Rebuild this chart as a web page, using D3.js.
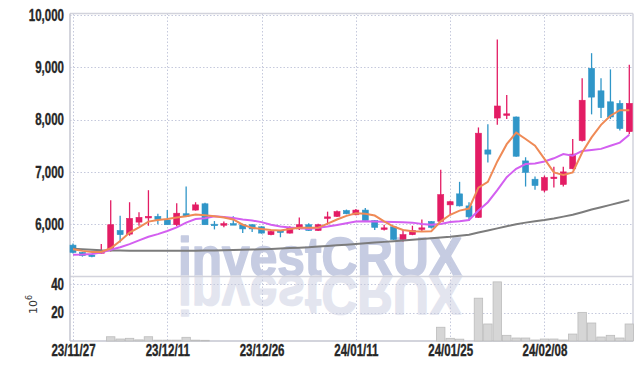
<!DOCTYPE html>
<html><head><meta charset="utf-8">
<script src="https://cdn.jsdelivr.net/npm/d3@7"></script>
<style>body{margin:0;background:#fff}svg{display:block}</style>
</head><body><svg id="c" width="643" height="370"></svg>
<script>
const dates = ["23/11/27","23/11/28","23/11/29","23/11/30","23/12/01","23/12/04","23/12/05","23/12/06","23/12/07","23/12/08",
"23/12/11","23/12/12","23/12/13","23/12/14","23/12/15","23/12/18","23/12/19","23/12/20","23/12/21","23/12/22",
"23/12/26","23/12/27","23/12/28","24/01/02","24/01/03","24/01/04","24/01/05","24/01/08","24/01/09","24/01/10",
"24/01/11","24/01/12","24/01/15","24/01/16","24/01/17","24/01/18","24/01/19","24/01/22","24/01/23","24/01/24",
"24/01/25","24/01/26","24/01/29","24/01/30","24/01/31","24/02/01","24/02/02","24/02/05","24/02/06","24/02/07",
"24/02/08","24/02/13","24/02/14","24/02/15","24/02/16","24/02/19","24/02/20","24/02/21","24/02/22","24/02/23"];
const openP = [5600,5460,5410,5445,5500,5880,5810,6040,6120,6150,6080,5990,6200,6270,6390,6000,5980,6010,5990,5990,
5950,5800,5870,5830,5910,5990,5880,6130,6150,6260,6180,6270,6070,5920,5950,5710,5800,5920,6050,6055,
6370,6580,6350,6130,7420,8030,8100,8050,7210,6860,6650,6890,6760,7060,7600,8980,8550,8340,8310,7770];
const highP = [5630,5470,5420,5620,6460,6160,6420,6230,6650,6200,6270,6400,6720,6420,6410,6060,6050,6150,6010,6000,
5960,5880,5880,5960,6130,6020,6010,6240,6260,6280,6290,6310,6080,5990,5960,5900,5970,6090,6060,7040,
6450,6810,6420,7850,7910,9530,8470,8060,7280,6910,6930,7100,7100,7630,8790,9270,8790,8960,8370,9050];
const lowP = [5440,5380,5370,5440,5480,5650,5780,5970,5970,6000,5990,5960,6140,6260,5990,5900,5940,5990,5830,5850,
5820,5790,5750,5820,5890,5870,5870,5990,6140,6190,6170,6060,5890,5880,5700,5670,5790,5850,5920,6040,
6170,6340,6060,6120,7180,7900,8010,7290,6720,6660,6610,6700,6720,7050,7580,8100,8030,8010,7790,7720];
const closeP = [5460,5400,5400,5480,5990,5800,6110,6130,6150,6090,5990,6210,6150,6370,5990,5990,6010,6000,5910,5910,
5830,5860,5860,5940,5990,5880,5990,6140,6240,6200,6270,6070,5940,5930,5710,5800,5880,5930,5940,6565,
6430,6350,6140,7740,7340,8260,8110,7300,6990,6740,6890,6900,7000,7340,8370,8430,8230,8050,7830,8310];
const ma5 = [5520,5490,5470,5470,5540,5680,5840,5940,6050,6080,6100,6130,6150,6185,6170,6150,6130,6090,5990,5930,
5910,5890,5880,5910,5930,5930,5930,6010,6090,6160,6210,6200,6165,6055,5955,5890,5865,5860,5865,6055,
6180,6260,6300,6700,6810,7200,7530,7750,7630,7500,7250,6990,6940,6990,7370,7660,7900,8075,8180,8180];
const ma20 = [5415,5420,5430,5460,5510,5560,5620,5690,5760,5810,5870,5940,6030,6100,6115,6150,6140,6120,6090,6070,
6040,5990,5955,5935,5925,5910,5930,5955,5985,6020,6050,6055,6050,6045,6040,6035,6030,6005,5990,6005,
6040,6055,6080,6260,6420,6650,6900,7060,7150,7160,7200,7260,7340,7310,7400,7420,7440,7500,7560,7710];
const ma60 = [5530,5520,5510,5500,5495,5495,5490,5490,5490,5490,5490,5490,5490,5492,5495,5498,5502,5506,5510,5515,
5520,5528,5536,5544,5552,5560,5572,5584,5596,5608,5620,5634,5648,5662,5676,5690,5704,5718,5732,5746,
5760,5780,5800,5840,5880,5920,5960,6000,6030,6055,6080,6110,6145,6180,6230,6280,6325,6370,6415,6460];
const volume = [0,0,0,0,3.0,1.4,1.9,0.8,3.0,0.6,0.6,0.6,2.6,0.6,0.5,0,0,0,0,0,
0,0,0,0,0,0,0,0,0,0,0,0,0,0,0,0,0,0,0,9.7,
1.9,1.3,0,30.2,12.0,41.7,4.0,2.1,2.1,0.7,1.4,1.4,0.7,4.9,20.2,12.7,2.8,4.0,2.1,12.0];
const priceTicks = [6000,7000,8000,9000,10000];
const volTicks = [20,40];
const dateTickIdx = [0,10,20,30,40,50];

const svg = d3.select("#c");
const L=70, R=633, T=13.5, PB=276.5, VB=341;
const idx = d3.range(dates.length);
const x = d3.scalePoint().domain(idx).range([73,629.3]);
const step = x.step();
const y = d3.scaleLinear().domain([5000,10000]).range([276.5,15]);
const yv = d3.scaleLinear().domain([0,40]).range([341,284.3]);
const UP="#e31c64", DOWN="#3096c8";
const tickFont = "'Liberation Sans','DejaVu Sans',sans-serif";

// watermark
const wmAttrs = s => s.attr("x",178).attr("y",276).attr("font-family","'Liberation Sans',Arial,sans-serif")
  .attr("font-weight","bold").attr("font-size",56).attr("textLength",284).attr("lengthAdjust","spacingAndGlyphs")
  .attr("stroke-width",1.6).attr("stroke-linejoin","round").text("investCRUX");
const wm = svg.append("g");
wm.append("text").call(wmAttrs).attr("fill","#c6cce2").attr("stroke","#c6cce2");
wm.append("text").call(wmAttrs).attr("transform","translate(0,552) scale(1,-1)")
  .attr("fill","#e3e5ef").attr("stroke","#e3e5ef");

// grid
const grid = svg.append("g").attr("stroke","#c5c9dc").attr("stroke-width",1).attr("stroke-dasharray","1.5,2");
grid.selectAll("line.h").data(priceTicks).join("line")
  .attr("x1",L).attr("x2",R).attr("y1",d=>Math.round(y(d))+0.5).attr("y2",d=>Math.round(y(d))+0.5);
grid.selectAll("line.v").data(volTicks).join("line")
  .attr("x1",L).attr("x2",R).attr("y1",d=>Math.round(yv(d))+0.5).attr("y2",d=>Math.round(yv(d))+0.5);
grid.selectAll("line.x").data(dateTickIdx).join("line")
  .attr("x1",d=>Math.round(x(d))+0.5).attr("x2",d=>Math.round(x(d))+0.5).attr("y1",T).attr("y2",VB);

// frame
const fr = svg.append("g").attr("stroke","#d2d3dc").attr("stroke-width",1.5);
fr.append("line").attr("x1",L).attr("x2",R).attr("y1",T).attr("y2",T);
fr.append("line").attr("x1",R).attr("x2",R).attr("y1",T).attr("y2",VB);
fr.append("line").attr("x1",L).attr("x2",R).attr("y1",PB).attr("y2",PB);
fr.append("line").attr("x1",L).attr("x2",L).attr("y1",T).attr("y2",VB).attr("stroke","#c4c6d0");
fr.append("line").attr("x1",L).attr("x2",R).attr("y1",VB).attr("y2",VB).attr("stroke","#c4c6d0");

// volume bars
svg.append("g").selectAll("rect").data(idx.filter(i=>volume[i]>0)).join("rect")
  .attr("x",i=>x(i)-step/2+0.5).attr("width",step-1)
  .attr("y",i=>yv(volume[i])).attr("height",i=>VB-yv(volume[i]))
  .attr("fill","#d6d6d6").attr("stroke","#bcbcbc").attr("stroke-width",0.8);

// candles
const cg = svg.append("g");
const col = i => closeP[i]>=openP[i]?UP:DOWN;
cg.selectAll("line").data(idx).join("line")
  .attr("x1",i=>x(i)).attr("x2",i=>x(i)).attr("y1",i=>y(highP[i])).attr("y2",i=>y(lowP[i]))
  .attr("stroke",col).attr("stroke-width",1.3);
const bw = 6;
cg.selectAll("rect").data(idx).join("rect")
  .attr("x",i=>x(i)-bw/2).attr("width",bw)
  .attr("y",i=>y(Math.max(openP[i],closeP[i])))
  .attr("height",i=>Math.max(1.5,Math.abs(y(openP[i])-y(closeP[i]))))
  .attr("fill",col).attr("stroke",col).attr("stroke-width",0.6);

// moving averages
const line = arr => d3.line().x(i=>x(i)).y(i=>y(arr[i]))(idx);
svg.append("path").attr("d",line(ma60)).attr("fill","none").attr("stroke","#7c7c7c").attr("stroke-width",2);
svg.append("path").attr("d",line(ma20)).attr("fill","none").attr("stroke","#d35ff0").attr("stroke-width",2);
svg.append("path").attr("d",line(ma5)).attr("fill","none").attr("stroke","#ef8a56").attr("stroke-width",2);

// axes
const ya = svg.append("g").attr("transform",`translate(${L},0)`)
  .call(d3.axisLeft(y).tickValues(priceTicks).tickFormat(d3.format(",")).tickSize(0).tickPadding(6));
const yva = svg.append("g").attr("transform",`translate(${L},0)`)
  .call(d3.axisLeft(yv).tickValues(volTicks).tickSize(0).tickPadding(6));
const xa = svg.append("g").attr("transform",`translate(0,${VB})`)
  .call(d3.axisBottom(x).tickValues(dateTickIdx).tickFormat(i=>dates[i]).tickSize(0).tickPadding(4));
[ya,yva,xa].forEach(g=>{
  g.select(".domain").remove();
  g.selectAll("text").attr("font-family",tickFont).attr("font-weight","bold").attr("font-size",16)
   .attr("fill","#262626").attr("stroke","#262626").attr("stroke-width",0.35);
});
[ya,yva,xa].forEach(g=>{
  g.selectAll("text").each(function(){
    const w=this.getComputedTextLength();
    d3.select(this).attr("textLength",w*0.72).attr("lengthAdjust","spacingAndGlyphs");
  });
});

// unit label
const ul = svg.append("text").attr("transform","translate(37,314) rotate(-90)")
  .attr("font-family","'DejaVu Sans',sans-serif").attr("font-size",11).attr("fill","#333");
ul.append("tspan").text("10");
ul.append("tspan").attr("dy",-5).attr("font-size",8).text("6");
</script></body></html>
